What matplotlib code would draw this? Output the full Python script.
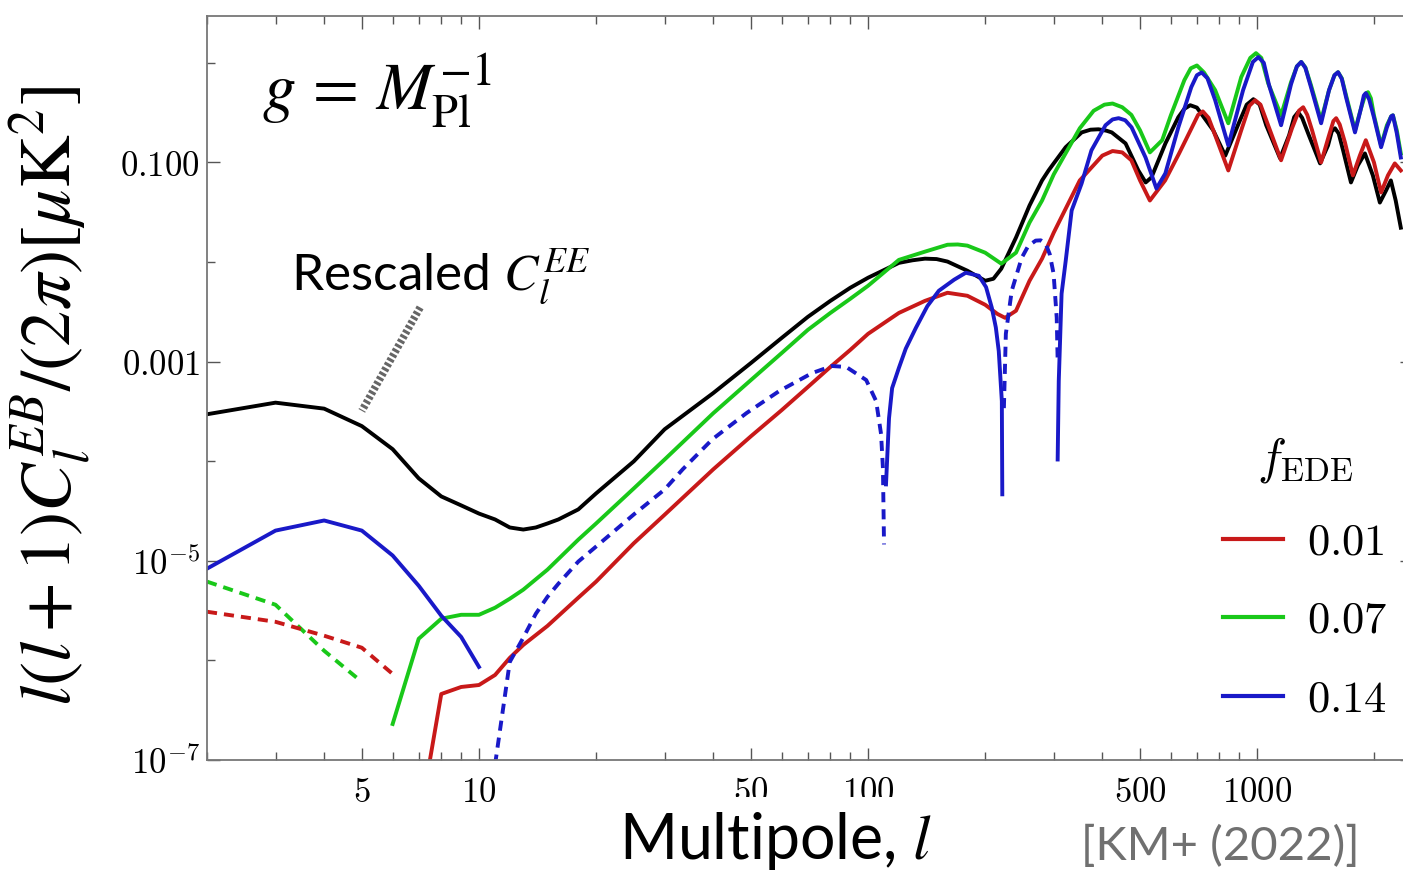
import matplotlib
matplotlib.use("Agg")
import matplotlib.pyplot as plt
from matplotlib.ticker import FixedLocator, FixedFormatter, NullFormatter

plt.rcParams["mathtext.fontset"] = "cm"

# ---- data (multipole l, l(l+1)C_l^EB/2pi in uK^2) ----
black_l = [2, 3, 4, 5, 6, 7, 8, 9, 10, 11, 12, 13, 14, 15, 16, 18, 20, 25, 30, 40,
           50, 60, 70, 80, 90, 100, 120, 130, 140, 150, 160, 180, 200, 210, 220, 240, 260,
           280, 291, 300, 322, 354, 373, 391, 410, 423, 459, 495, 517, 535, 581, 627, 650,
           673, 700, 771, 828, 899, 940, 978, 1015, 1055, 1145, 1208, 1245, 1274, 1305,
           1358, 1451, 1521, 1555, 1585, 1620, 1663, 1742, 1815, 1892, 1983, 2067, 2144,
           2206, 2270, 2340]
black_v = [2.96e-4, 3.87e-4, 3.37e-4, 2.25e-4, 1.32e-4, 6.73e-5, 4.43e-5, 3.60e-5, 2.98e-5,
           2.60e-5, 2.16e-5, 2.06e-5, 2.16e-5, 2.37e-5, 2.60e-5, 3.28e-5, 4.75e-5, 9.97e-5,
           2.09e-4, 4.83e-4, 9.68e-4, 1.73e-3, 2.81e-3, 4.07e-3, 5.51e-3, 6.95e-3, 9.8e-3,
           1.04e-2, 1.08e-2, 1.07e-2, 1.01e-2, 8.17e-3, 6.48e-3, 6.79e-3, 8.57e-3, 1.76e-2,
           3.69e-2, 6.59e-2, 8.3e-2, 9.77e-2, 0.142, 0.200, 0.213, 0.215, 0.208, 0.200,
           0.155, 0.083, 0.0629, 0.0707, 0.155, 0.284, 0.345, 0.375, 0.355, 0.210, 0.117,
           0.253, 0.38, 0.431, 0.38, 0.236, 0.110, 0.187, 0.285, 0.319, 0.28, 0.187, 0.0977,
           0.148, 0.205, 0.220, 0.195, 0.132, 0.0629, 0.0933, 0.123, 0.0740, 0.0395, 0.0522,
           0.0659, 0.0414, 0.0221]

red_neg_l = [2, 3, 4, 5, 6]
red_neg_v = [3.08e-6, 2.44e-6, 1.77e-6, 1.34e-6, 7.31e-7]
red_l = [7, 8, 9, 10, 11, 12, 13, 15, 18, 20, 25, 30, 40, 50, 60, 70, 80, 90, 100, 120,
         140, 160, 180, 200, 215, 225, 240, 260, 280, 300, 350, 400, 425, 450, 475, 500,
         530, 580, 630, 680, 705, 725, 750, 780, 843, 910, 955, 988, 1020, 1067, 1152,
         1229, 1280, 1313, 1345, 1384, 1460, 1530, 1570, 1596, 1630, 1681, 1762, 1836,
         1902, 1996, 2082, 2168, 2258, 2340]
red_v = [2.2e-8, 4.60e-7, 5.41e-7, 5.66e-7, 7.14e-7, 1.06e-6, 1.43e-6, 2.22e-6, 4.26e-6,
         6.18e-6, 1.5e-5, 2.9e-5, 8.28e-5, 1.78e-4, 3.26e-4, 5.55e-4, 8.83e-4, 1.31e-3,
         1.90e-3, 3.08e-3, 4.07e-3, 4.91e-3, 4.58e-3, 3.72e-3, 3.01e-3, 2.75e-3, 3.24e-3,
         6.48e-3, 1.08e-2, 1.97e-2, 6.59e-2, 0.117, 0.130, 0.126, 0.105, 0.0659, 0.0414,
         0.0659, 0.123, 0.225, 0.30, 0.325, 0.28, 0.187, 0.0830, 0.210, 0.37, 0.421, 0.38,
         0.236, 0.105, 0.220, 0.33, 0.358, 0.30, 0.210, 0.100, 0.187, 0.26, 0.278, 0.24,
         0.159, 0.0740, 0.117, 0.167, 0.100, 0.0499, 0.0740, 0.0977, 0.0830]

green_neg_l = [2, 3, 4, 5]
green_neg_v = [6.18e-6, 3.62e-6, 1.25e-6, 6.08e-7]
green_l = [6, 7, 8, 9, 10, 11, 12, 13, 15, 18, 20, 25, 30, 40, 50, 60, 70, 80, 90, 100,
           120, 140, 160, 170, 180, 200, 220, 240, 260, 280, 300, 350, 380, 405, 425, 450,
           475, 500, 530, 570, 600, 650, 675, 700, 730, 780, 843, 910, 960, 993, 1025, 1067,
           1152, 1222, 1265, 1298, 1330, 1375, 1460, 1530, 1580, 1614, 1650, 1692, 1784,
           1849, 1900, 1927, 1960, 1996, 2082, 2155, 2210, 2233, 2285, 2340]
green_v = [2.30e-7, 1.65e-6, 2.62e-6, 2.87e-6, 2.87e-6, 3.38e-6, 4.16e-6, 5.13e-6, 8.15e-6,
           1.63e-5, 2.37e-5, 5.33e-5, 1.04e-4, 3.03e-4, 6.53e-4, 1.22e-3, 2.08e-3, 3.08e-3,
           4.27e-3, 5.77e-3, 1.05e-2, 1.27e-2, 1.49e-2, 1.50e-2, 1.46e-2, 1.24e-2, 9.62e-3,
           1.24e-2, 2.49e-2, 4.14e-2, 7.57e-2, 0.220, 0.33, 0.38, 0.39, 0.358, 0.30, 0.210,
           0.126, 0.167, 0.297, 0.670, 0.88, 0.94, 0.80, 0.531, 0.247, 0.718, 1.12, 1.25,
           1.12, 0.625, 0.297, 0.640, 0.92, 1.02, 0.90, 0.596, 0.265, 0.531, 0.75, 0.805,
           0.70, 0.473, 0.210, 0.350, 0.49, 0.507, 0.44, 0.297, 0.148, 0.236, 0.29, 0.297,
           0.210, 0.123]

# blue changes sign several times: solid = positive, dashed = negative
blue_a_l = [2, 3, 4, 5, 6, 7, 8, 9, 10]
blue_a_v = [8.34e-6, 2.01e-5, 2.54e-5, 2.01e-5, 1.13e-5, 5.62e-6, 2.81e-6, 1.72e-6, 8.60e-7]
blue_b_l = [11, 12, 13, 14, 15, 16, 18, 20, 25, 30, 33.4, 39.8, 48.7, 59.1, 71.8, 80.8,
            87.9, 98.9, 104.9, 108.0, 109.2, 109.9]
blue_b_v = [9e-8, 9.66e-7, 1.69e-6, 2.94e-6, 4.35e-6, 5.89e-6, 9.82e-6, 1.39e-5, 2.92e-5,
            5.2e-5, 8.3e-5, 1.66e-4, 3.04e-4, 5.06e-4, 7.67e-4, 9.03e-4, 8.83e-4, 6.53e-4,
            4.01e-4, 1.87e-4, 8.48e-5, 1.46e-5]
blue_c_l = [111.2, 113.2, 115.3, 120.0, 125.0, 132.7, 142.0, 152.0, 166.4, 178.3, 192.6,
            201.0, 208.0, 213.0, 216.7, 220.7, 221.3]
blue_c_v = [5.85e-5, 2.70e-4, 5.42e-4, 8.63e-4, 1.35e-3, 2.18e-3, 3.6e-3, 5.14e-3, 6.64e-3,
            7.80e-3, 7.27e-3, 5.6e-3, 3.47e-3, 2.2e-3, 1.28e-3, 4.01e-4, 4.65e-5]
blue_d_l = [223.4, 226.0, 234.0, 248.2, 258.0, 269.7, 278.0, 285.9, 293.0, 299.8, 305.4,
            307.1]
blue_d_v = [3.41e-4, 1.90e-3, 5.14e-3, 1.10e-2, 1.45e-2, 1.64e-2, 1.65e-2, 1.53e-2, 1.2e-2,
            7.62e-3, 2.75e-3, 1.01e-3]
blue_e_l = [307.1, 309.1, 314.3, 322.1, 333.6, 353.9, 375.0, 407.6, 425, 440.4, 458, 475.6,
            516.6, 550.9, 580.8, 627.3, 677.1, 700, 720, 745, 780, 843, 920, 975, 1007,
            1040, 1073, 1152, 1222, 1265, 1298, 1330, 1375, 1460, 1530, 1580, 1614, 1650,
            1692, 1784, 1849, 1880, 1902, 1940, 1996, 2082, 2155, 2210, 2233, 2285, 2340]
blue_e_v = [1.04e-4, 6.38e-4, 4.80e-3, 1.03e-2, 3.29e-2, 6.15e-2, 0.132, 0.236, 0.27,
            0.278, 0.265, 0.225, 0.112, 5.47e-2, 7.75e-2, 0.225, 0.569, 0.75, 0.80, 0.70,
            0.421, 0.148, 0.531, 1.02, 1.14, 1.0, 0.596, 0.236, 0.610, 0.92, 1.02, 0.89,
            0.569, 0.247, 0.531, 0.75, 0.805, 0.69, 0.452, 0.200, 0.350, 0.47, 0.496, 0.43,
            0.283, 0.142, 0.225, 0.29, 0.297, 0.196, 0.112]

f_ede_labels = ["$0.01$", "$0.07$", "$0.14$"]

x_major = [5, 10, 50, 100, 500, 1000]
x_major_labels = ["$5$", "$10$", "$50$", "$100$", "$500$", "$1000$"]
x_minor = [2, 3, 4, 6, 7, 8, 9, 20, 30, 40, 60, 70, 80, 90, 200, 300, 400, 600, 700, 800,
           900, 2000]
y_major = [1e-7, 1e-5, 1e-3, 1e-1]
y_major_labels = ["$10^{-7}$", "$10^{-5}$", "$0.001$", "$0.100$"]
y_minor = [1e-6, 1e-4, 1e-2, 1.0]

RED, GREEN, BLUE, BLACK = "#c81919", "#19c819", "#1919c8", "black"
LW = 2.8
DASH = (0, (2.6, 1.8))

fig = plt.figure(figsize=(14.03, 8.72), dpi=100)
W, H = 1403, 872
ax = fig.add_axes([207 / W, 1 - 760 / H, 1205 / W, 744 / H])
ax.set_xscale("log")
ax.set_yscale("log")
ax.set_xlim(2, 2500)
ax.set_ylim(1e-7, 2.95)

ax.plot(black_l, black_v, color=BLACK, lw=LW)
ax.plot(green_neg_l, green_neg_v, color=GREEN, lw=LW, ls=DASH)
hg, = ax.plot(green_l, green_v, color=GREEN, lw=LW)
ax.plot(red_neg_l, red_neg_v, color=RED, lw=LW, ls=DASH)
hr, = ax.plot(red_l, red_v, color=RED, lw=LW)
hb, = ax.plot(blue_a_l, blue_a_v, color=BLUE, lw=LW)
ax.plot(blue_b_l, blue_b_v, color=BLUE, lw=LW, ls=DASH)
ax.plot(blue_c_l, blue_c_v, color=BLUE, lw=LW)
ax.plot(blue_d_l, blue_d_v, color=BLUE, lw=LW, ls=DASH)
ax.plot(blue_e_l, blue_e_v, color=BLUE, lw=LW)

# axes / ticks
ax.xaxis.set_major_locator(FixedLocator(x_major))
ax.xaxis.set_major_formatter(FixedFormatter(x_major_labels))
ax.xaxis.set_minor_locator(FixedLocator(x_minor))
ax.xaxis.set_minor_formatter(NullFormatter())
ax.yaxis.set_major_locator(FixedLocator(y_major))
ax.yaxis.set_major_formatter(FixedFormatter(y_major_labels))
ax.yaxis.set_minor_locator(FixedLocator(y_minor))
ax.yaxis.set_minor_formatter(NullFormatter())
ax.tick_params(which="both", direction="in", top=True, right=True, color="#555555",
               width=1.0, labelsize=25)
ax.tick_params(which="major", length=9)
ax.tick_params(which="minor", length=6)
ax.tick_params(axis="x", which="major", pad=11)
ax.tick_params(axis="y", which="major", pad=5)
for s in ax.spines.values():
    s.set_color("#777777")
    s.set_linewidth(1.3)

ax.set_ylabel(r"$l(l+1)C_l^{EB}/(2\pi)[\mu{\rm K}^2]$", fontsize=52,
              math_fontfamily="stix")
ax.yaxis.set_label_coords(-0.094, 0.49)
ax.set_xlabel("Multipole, $l$", fontsize=45, family="Lato", math_fontfamily="stix",
              va="baseline",
              bbox=dict(facecolor="white", edgecolor="none", pad=9))
ax.xaxis.set_label_coords(0.472, -0.133)

ax.text(0.0456, 0.874, r"$g\,=\,M_{\rm Pl}^{-1}$", transform=ax.transAxes, fontsize=48,
        math_fontfamily="stix", va="baseline")
ax.text(0.0697, 0.632, r"Rescaled $C_l^{EE}$", transform=ax.transAxes, fontsize=37,
        family="Lato", math_fontfamily="stix", va="baseline")
ax.annotate("", xy=(5.0, 3.2e-4), xytext=(7.06, 3.5e-3),
            arrowprops=dict(arrowstyle="-", color="#666666", lw=5.5, capstyle="butt",
                            ls=(0, (0.4, 0.3)), shrinkA=0, shrinkB=0))
fig.text(1360 / W, 12 / H, "[KM+ (2022)]", fontsize=34, family="Lato", color="#707070",
         ha="right", va="baseline")

leg = ax.legend(handles=[hr, hg, hb], labels=f_ede_labels, title=r"$f_{\rm EDE}$",
                loc="upper left", bbox_to_anchor=(1223 / W, 1 - 434 / H),
                bbox_transform=fig.transFigure, frameon=False, fontsize=32,
                title_fontsize=35, handlelength=1.35, handletextpad=0.55,
                labelspacing=0.8, borderpad=0, borderaxespad=0)
for line in leg.get_lines():
    line.set_linewidth(3)

fig.savefig("out.png", dpi=100)
